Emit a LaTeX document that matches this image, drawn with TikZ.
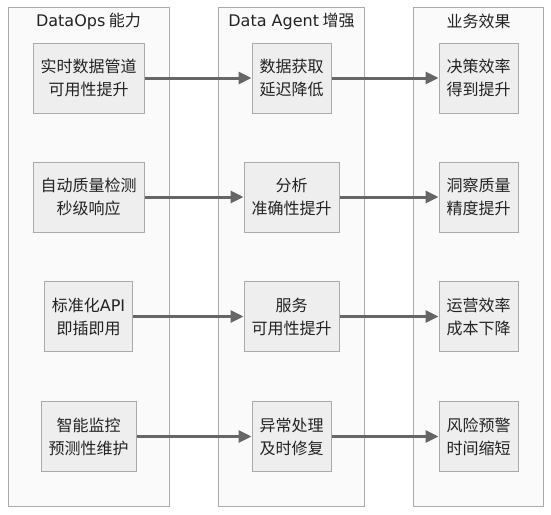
\documentclass[tikz,border=0pt]{standalone}
\usepackage{fontspec}
\setmainfont{Noto Sans CJK SC}
\newfontfamily\lat{DejaVu Sans}
\usetikzlibrary{arrows.meta}
\definecolor{outerfill}{HTML}{FAFAFA}
\definecolor{boxfill}{HTML}{EEEEEE}
\definecolor{bordergray}{HTML}{AAAAAA}
\definecolor{arrowgray}{HTML}{666666}
\definecolor{textdark}{HTML}{222222}
\begin{document}
\begin{tikzpicture}[x=1pt,y=-1pt,
  col/.style={draw=bordergray, fill=outerfill, line width=1.2pt, anchor=north west, minimum height=499pt, inner sep=0pt},
  item/.style={draw=bordergray, fill=boxfill, line width=1pt, minimum height=70pt, inner xsep=7.5pt, align=center, font=\fontsize{16}{23}\selectfont, text=textdark},
  coltitle/.style={font=\fontsize{16}{20}\selectfont, text=textdark, inner sep=0pt},
  flow/.style={draw=arrowgray, line width=3pt, -{Triangle[length=13pt,width=12pt]}}]
\useasboundingbox (0,0) rectangle (551,514);
\fill[white] (0,0) rectangle (551,514);
% columns
\node[col, minimum width=161pt] (c1) at (8,7) {};
\node[col, minimum width=146pt] (c2) at (218,7) {};
\node[col, minimum width=130pt] (c3) at (413,7) {};
% titles
\node[coltitle] (t1) at (88.5,21) {{\lat DataOps} 能力};
\node[coltitle] (t2) at (291.5,21) {{\lat Data Agent} 增强};
\node[coltitle] (t3) at (478.5,21) {业务效果};
% column 1
\node[item] (a1) at (88.5,78) {实时数据管道\\可用性提升};
\node[item] (a2) at (88.5,197) {自动质量检测\\秒级响应};
\node[item] (a3) at (88.5,316.5) {标准化{\lat API}\\即插即用};
\node[item] (a4) at (88.5,436.5) {智能监控\\预测性维护};
% column 2
\node[item] (b1) at (291.5,78) {数据获取\\延迟降低};
\node[item] (b2) at (291.5,197) {分析\\准确性提升};
\node[item] (b3) at (291.5,316.5) {服务\\可用性提升};
\node[item] (b4) at (291.5,436.5) {异常处理\\及时修复};
% column 3
\node[item] (e1) at (478.5,78) {决策效率\\得到提升};
\node[item] (e2) at (478.5,197) {洞察质量\\精度提升};
\node[item] (e3) at (478.5,316.5) {运营效率\\成本下降};
\node[item] (e4) at (478.5,436.5) {风险预警\\时间缩短};
% arrows
\foreach \i in {1,2,3,4}{
  \draw[flow] (a\i) -- (b\i);
  \draw[flow] (b\i) -- (e\i);
}
\end{tikzpicture}
\end{document}
